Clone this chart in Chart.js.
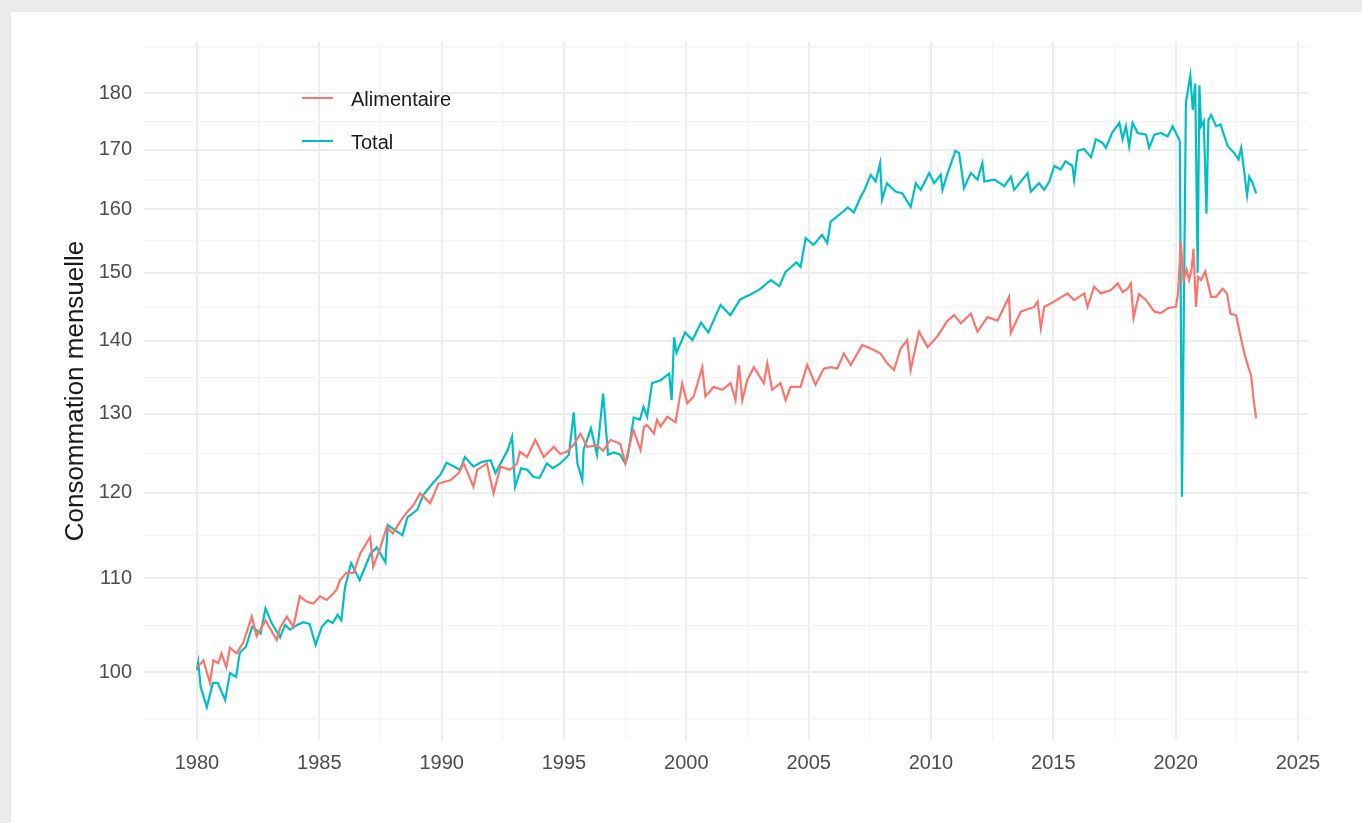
<!DOCTYPE html>
<html>
<head>
<meta charset="utf-8">
<title>Consommation mensuelle</title>
<script src="https://cdn.jsdelivr.net/npm/chart.js@4.4.0/dist/chart.umd.min.js"></script>
<style>
  html, body { margin: 0; padding: 0; }
  body { width: 1362px; height: 823px; background: #ebebed; position: relative; overflow: hidden; }
  #panel { position: absolute; left: 11px; top: 12px; width: 1351px; height: 811px; background: #ffffff; }
  #myCanvas { position: absolute; left: 0; top: 0; }
</style>
</head>
<body>
<div id="panel"></div>
<canvas id="myCanvas" width="1362" height="823"></canvas>
<script>
/* DATA : dates en années décimales */
const alimDates = [
  1980.0, 1980.26, 1980.53, 1980.67, 1980.87, 1981.0, 1981.2, 1981.35, 1981.62, 1981.9,
  1982.24, 1982.44, 1982.8, 1983.26, 1983.4, 1983.67, 1983.94, 1984.2, 1984.5, 1984.76,
  1985.03, 1985.3, 1985.57, 1985.7, 1985.85, 1986.1, 1986.4, 1986.67, 1987.08, 1987.2,
  1987.5, 1987.76, 1988.0, 1988.3, 1988.58, 1988.85, 1989.12, 1989.53, 1989.87, 1990.35,
  1990.7, 1990.9, 1991.3, 1991.45, 1991.85, 1992.12, 1992.4, 1992.8, 1993.08, 1993.2,
  1993.49, 1993.83, 1994.17, 1994.58, 1994.85, 1995.13, 1995.4, 1995.67, 1995.95, 1996.35,
  1996.6, 1996.9, 1997.3, 1997.51, 1997.79, 1997.85, 1998.13, 1998.27, 1998.4, 1998.68,
  1998.8, 1998.95, 1999.22, 1999.56, 1999.83, 2000.04, 2000.3, 2000.65, 2000.78, 2001.12,
  2001.47, 2001.81, 2002.01, 2002.15, 2002.29, 2002.49, 2002.76, 2003.17, 2003.31, 2003.51,
  2003.85, 2004.06, 2004.26, 2004.67, 2004.94, 2005.28, 2005.62, 2005.9, 2006.17, 2006.44,
  2006.72, 2007.19, 2007.67, 2007.94, 2008.22, 2008.49, 2008.76, 2009.03, 2009.17, 2009.51,
  2009.86, 2010.26, 2010.68, 2010.95, 2011.22, 2011.63, 2011.9, 2012.31, 2012.72, 2013.19,
  2013.26, 2013.67, 2014.22, 2014.36, 2014.49, 2014.63, 2015.04, 2015.58, 2015.85, 2016.26,
  2016.4, 2016.67, 2016.95, 2017.36, 2017.63, 2017.83, 2018.04, 2018.17, 2018.28, 2018.5,
  2018.79, 2019.13, 2019.4, 2019.67, 2020.01, 2020.1, 2020.21, 2020.32, 2020.45, 2020.55,
  2020.65, 2020.73, 2020.83, 2020.92, 2021.04, 2021.21, 2021.45, 2021.65, 2021.92, 2022.1,
  2022.24, 2022.47, 2022.6, 2022.81, 2022.97, 2023.08, 2023.19, 2023.29
];
const alimValues = [
  100.4, 101.2, 98.9, 101.2, 100.9, 101.9, 100.5, 102.5, 101.9, 103.1,
  105.8, 103.7, 105.4, 103.3, 104.6, 105.8, 104.7, 108.0, 107.4, 107.2,
  108.0, 107.6, 108.3, 108.7, 109.8, 110.6, 110.6, 112.8, 114.7, 111.3,
  113.5, 115.9, 115.1, 116.5, 117.6, 118.5, 119.9, 118.7, 121.1, 121.5,
  122.4, 123.6, 120.7, 122.8, 123.6, 119.9, 123.2, 122.8, 123.6, 125.1,
  124.4, 126.6, 124.4, 125.7, 124.8, 125.1, 126.0, 127.4, 125.7, 125.9,
  125.2, 126.6, 126.1, 123.6, 127.4, 127.8, 125.3, 128.3, 128.5, 127.4,
  129.2, 128.3, 129.6, 128.9, 134.1, 131.4, 132.3, 136.3, 132.3, 133.6,
  133.2, 134.1, 131.8, 136.6, 131.8, 134.5, 136.3, 134.1, 136.8, 133.2,
  134.1, 131.8, 133.6, 133.6, 136.6, 133.9, 136.1, 136.3, 136.1, 138.2,
  136.6, 139.4, 138.7, 138.2, 136.8, 135.9, 138.9, 140.1, 135.9, 141.3,
  139.1, 140.6, 142.9, 143.7, 142.5, 143.9, 141.3, 143.4, 142.9, 146.4,
  141.1, 144.2, 144.9, 145.7, 141.8, 144.9, 145.7, 146.9, 145.9, 146.9,
  144.9, 147.9, 146.9, 147.4, 148.4, 147.1, 147.6, 148.4, 143.3, 146.8,
  145.9, 144.2, 144.0, 144.7, 144.9, 146.9, 154.8, 148.9, 150.5, 148.9,
  150.5, 153.7, 144.9, 149.4, 148.9, 150.2, 146.4, 146.4, 147.6, 146.9,
  143.9, 143.7, 141.5, 138.2, 136.3, 135.2, 131.8, 129.4
];

const totalDates = [
  1980.0, 1980.05, 1980.15, 1980.4, 1980.65, 1980.85, 1981.15, 1981.35, 1981.6, 1981.75,
  1982.0, 1982.25, 1982.6, 1982.8, 1983.05, 1983.4, 1983.6, 1983.8, 1984.1, 1984.35,
  1984.6, 1984.85, 1985.1, 1985.35, 1985.55, 1985.75, 1985.9, 1986.05, 1986.3, 1986.65,
  1987.1, 1987.35, 1987.7, 1987.8, 1988.4, 1988.6, 1989.0, 1989.25, 1989.65, 1989.95,
  1990.2, 1990.75, 1990.95, 1991.3, 1991.65, 1992.0, 1992.2, 1992.7, 1992.88, 1993.0,
  1993.25, 1993.5, 1993.75, 1994.0, 1994.3, 1994.55, 1994.85, 1995.2, 1995.4, 1995.55,
  1995.75, 1995.8, 1996.1, 1996.35, 1996.6, 1996.8, 1997.05, 1997.3, 1997.5, 1997.6,
  1997.85, 1998.1, 1998.25, 1998.4, 1998.6, 1998.95, 1999.3, 1999.4, 1999.5, 1999.6,
  1999.95, 2000.25, 2000.6, 2000.9, 2001.4, 2001.8, 2002.2, 2002.6, 2003.0, 2003.45,
  2003.8, 2004.05, 2004.5, 2004.67, 2004.88, 2005.2, 2005.55, 2005.76, 2005.9, 2006.4,
  2006.6, 2006.85, 2007.13, 2007.25, 2007.54, 2007.74, 2007.92, 2008.0, 2008.2, 2008.55,
  2008.83, 2009.17, 2009.38, 2009.58, 2009.93, 2010.13, 2010.4, 2010.47, 2010.68, 2011.0,
  2011.15, 2011.35, 2011.63, 2011.9, 2012.1, 2012.18, 2012.6, 2013.0, 2013.27, 2013.4,
  2013.68, 2013.95, 2014.08, 2014.42, 2014.63, 2014.84, 2015.04, 2015.3, 2015.5, 2015.78,
  2015.85, 2016.0, 2016.26, 2016.54, 2016.74, 2017.0, 2017.15, 2017.4, 2017.7, 2017.83,
  2017.97, 2018.1, 2018.24, 2018.45, 2018.79, 2018.92, 2019.13, 2019.4, 2019.67, 2019.88,
  2020.08, 2020.17, 2020.26, 2020.42, 2020.6, 2020.7, 2020.8, 2020.9, 2020.97, 2021.04,
  2021.15, 2021.26, 2021.34, 2021.45, 2021.65, 2021.83, 2022.13, 2022.4, 2022.57, 2022.68,
  2022.81, 2022.92, 2023.01, 2023.15, 2023.29
];
const totalValues = [
  100.2, 101.0, 98.5, 96.5, 98.9, 98.9, 97.2, 99.9, 99.5, 102.0,
  102.6, 104.7, 104.0, 106.7, 105.1, 103.6, 104.9, 104.4, 104.9, 105.2,
  105.0, 102.8, 104.7, 105.4, 105.1, 106.0, 105.4, 109.0, 111.7, 109.8,
  112.8, 113.5, 111.8, 116.1, 114.9, 117.0, 117.9, 119.7, 121.2, 122.2,
  123.7, 122.8, 124.4, 123.2, 123.8, 124.0, 122.4, 125.3, 127.0, 120.7,
  123.0, 122.8, 121.9, 121.8, 123.6, 123.0, 123.6, 124.7, 130.2, 123.6,
  121.5, 125.3, 128.1, 124.7, 132.7, 124.7, 125.0, 124.7, 123.6, 124.4,
  129.5, 129.2, 130.9, 129.6, 134.1, 134.5, 135.4, 131.8, 140.5, 138.3,
  141.2, 140.1, 142.6, 141.2, 145.2, 143.7, 146.0, 146.7, 147.5, 148.9,
  148.0, 150.1, 151.6, 150.9, 155.4, 154.3, 155.9, 154.6, 158.0, 159.6,
  160.3, 159.5, 162.1, 162.9, 165.7, 164.6, 167.7, 161.6, 164.3, 162.9,
  162.6, 160.4, 164.3, 163.2, 166.0, 164.3, 165.7, 163.2, 166.0, 169.8,
  169.4, 163.5, 166.0, 164.9, 167.7, 164.6, 164.9, 163.8, 165.4, 163.2,
  164.6, 166.0, 162.9, 164.3, 163.2, 164.6, 167.2, 166.6, 168.0, 167.2,
  164.9, 169.8, 170.1, 168.7, 171.8, 171.2, 170.3, 172.9, 174.7, 171.8,
  174.1, 170.6, 174.7, 172.9, 172.6, 170.3, 172.6, 172.9, 172.3, 174.1,
  172.3, 171.5, 119.5, 178.3, 183.3, 177.0, 181.8, 150.0, 181.5, 174.1,
  175.0, 159.3, 175.2, 176.1, 174.1, 174.4, 170.6, 169.4, 168.3, 170.3,
  166.0, 162.3, 165.4, 164.3, 162.6
];

const seriesNames = ["Alimentaire", "Total"];
const seriesColors = ["#F8766D", "#00BFC4"];

const yMajor = [100, 110, 120, 130, 140, 150, 160, 170, 180];
const yMinor = [95.35, 104.88, 114.89, 124.9, 134.91, 144.91, 154.92, 164.92, 174.93, 188.8];
const xMajor = [1980, 1985, 1990, 1995, 2000, 2005, 2010, 2015, 2020, 2025];
const xMinor = [1982.5, 1987.5, 1992.5, 1997.5, 2002.5, 2007.5, 2012.5, 2017.5, 2022.5];

Chart.defaults.font.family = "'Liberation Sans', Arial, Helvetica, sans-serif";

const toPoints = (dates, values) => dates.map((d, i) => ({ x: d, y: values[i] }));

// légende dessinée dans le panneau, comme ggplot
const insideLegend = {
  id: "insideLegend",
  afterDraw(chart) {
    const ctx = chart.ctx;
    ctx.save();
    seriesNames.forEach((name, i) => {
      const y = 98 + i * 43;
      ctx.strokeStyle = seriesColors[i];
      ctx.lineWidth = 2;
      ctx.beginPath();
      ctx.moveTo(302, y);
      ctx.lineTo(333, y);
      ctx.stroke();
      ctx.fillStyle = "#1a1a1a";
      ctx.font = "20px 'Liberation Sans', Arial, sans-serif";
      ctx.textBaseline = "middle";
      ctx.textAlign = "left";
      ctx.fillText(name, 351, y + 2);
    });
    ctx.restore();
  },
};

const line = document.getElementById("myCanvas");
new Chart(line, {
  type: "line",
  data: {
    datasets: [
      {
        label: seriesNames[0],
        data: toPoints(alimDates, alimValues),
        borderColor: seriesColors[0],
        borderWidth: 2.2,
        pointRadius: 0,
        fill: false,
        tension: 0,
      },
      {
        label: seriesNames[1],
        data: toPoints(totalDates, totalValues),
        borderColor: seriesColors[1],
        borderWidth: 2.2,
        pointRadius: 0,
        fill: false,
        tension: 0,
      },
    ],
  },
  options: {
    responsive: false,
    animation: false,
    devicePixelRatio: 1,
    layout: { padding: { left: 0, top: 42, right: 54, bottom: 0 } },
    plugins: {
      legend: { display: false },
      tooltip: { enabled: false },
    },
    scales: {
      x: {
        type: "linear",
        min: 1977.834,
        max: 2025.41,
        afterBuildTicks: (scale) => {
          scale.ticks = xMajor.concat(xMinor).sort((a, b) => a - b).map((v) => ({ value: v }));
        },
        afterFit: (scale) => {
          scale.height = 83;
        },
        ticks: {
          autoSkip: false,
          maxRotation: 0,
          padding: 11,
          color: "#4d4d4d",
          font: { size: 20 },
          callback: (v) => (xMajor.includes(v) ? String(v) : ""),
        },
        grid: {
          drawTicks: false,
          color: (c) => (xMajor.includes(c.tick.value) ? "#ededed" : "#f3f3f3"),
          lineWidth: (c) => (xMajor.includes(c.tick.value) ? 2 : 1.2),
        },
        border: { display: false },
      },
      y: {
        type: "logarithmic",
        min: 93.33,
        max: 189.64,
        afterBuildTicks: (scale) => {
          scale.ticks = yMajor.concat(yMinor).sort((a, b) => a - b).map((v) => ({ value: v }));
        },
        afterFit: (scale) => {
          scale.width = 144;
        },
        ticks: {
          autoSkip: false,
          padding: 12,
          color: "#4d4d4d",
          font: { size: 20 },
          callback: (v) => (yMajor.includes(v) ? String(v) : ""),
        },
        grid: {
          drawTicks: false,
          color: (c) => (yMajor.includes(c.tick.value) ? "#ededed" : "#f3f3f3"),
          lineWidth: (c) => (yMajor.includes(c.tick.value) ? 2 : 1.2),
        },
        border: { display: false },
        title: {
          display: true,
          text: "Consommation mensuelle",
          color: "#1a1a1a",
          font: { size: 26 },
          padding: { top: 60, bottom: 0 },
        },
      },
    },
  },
  plugins: [insideLegend],
});
</script>
</body>
</html>
